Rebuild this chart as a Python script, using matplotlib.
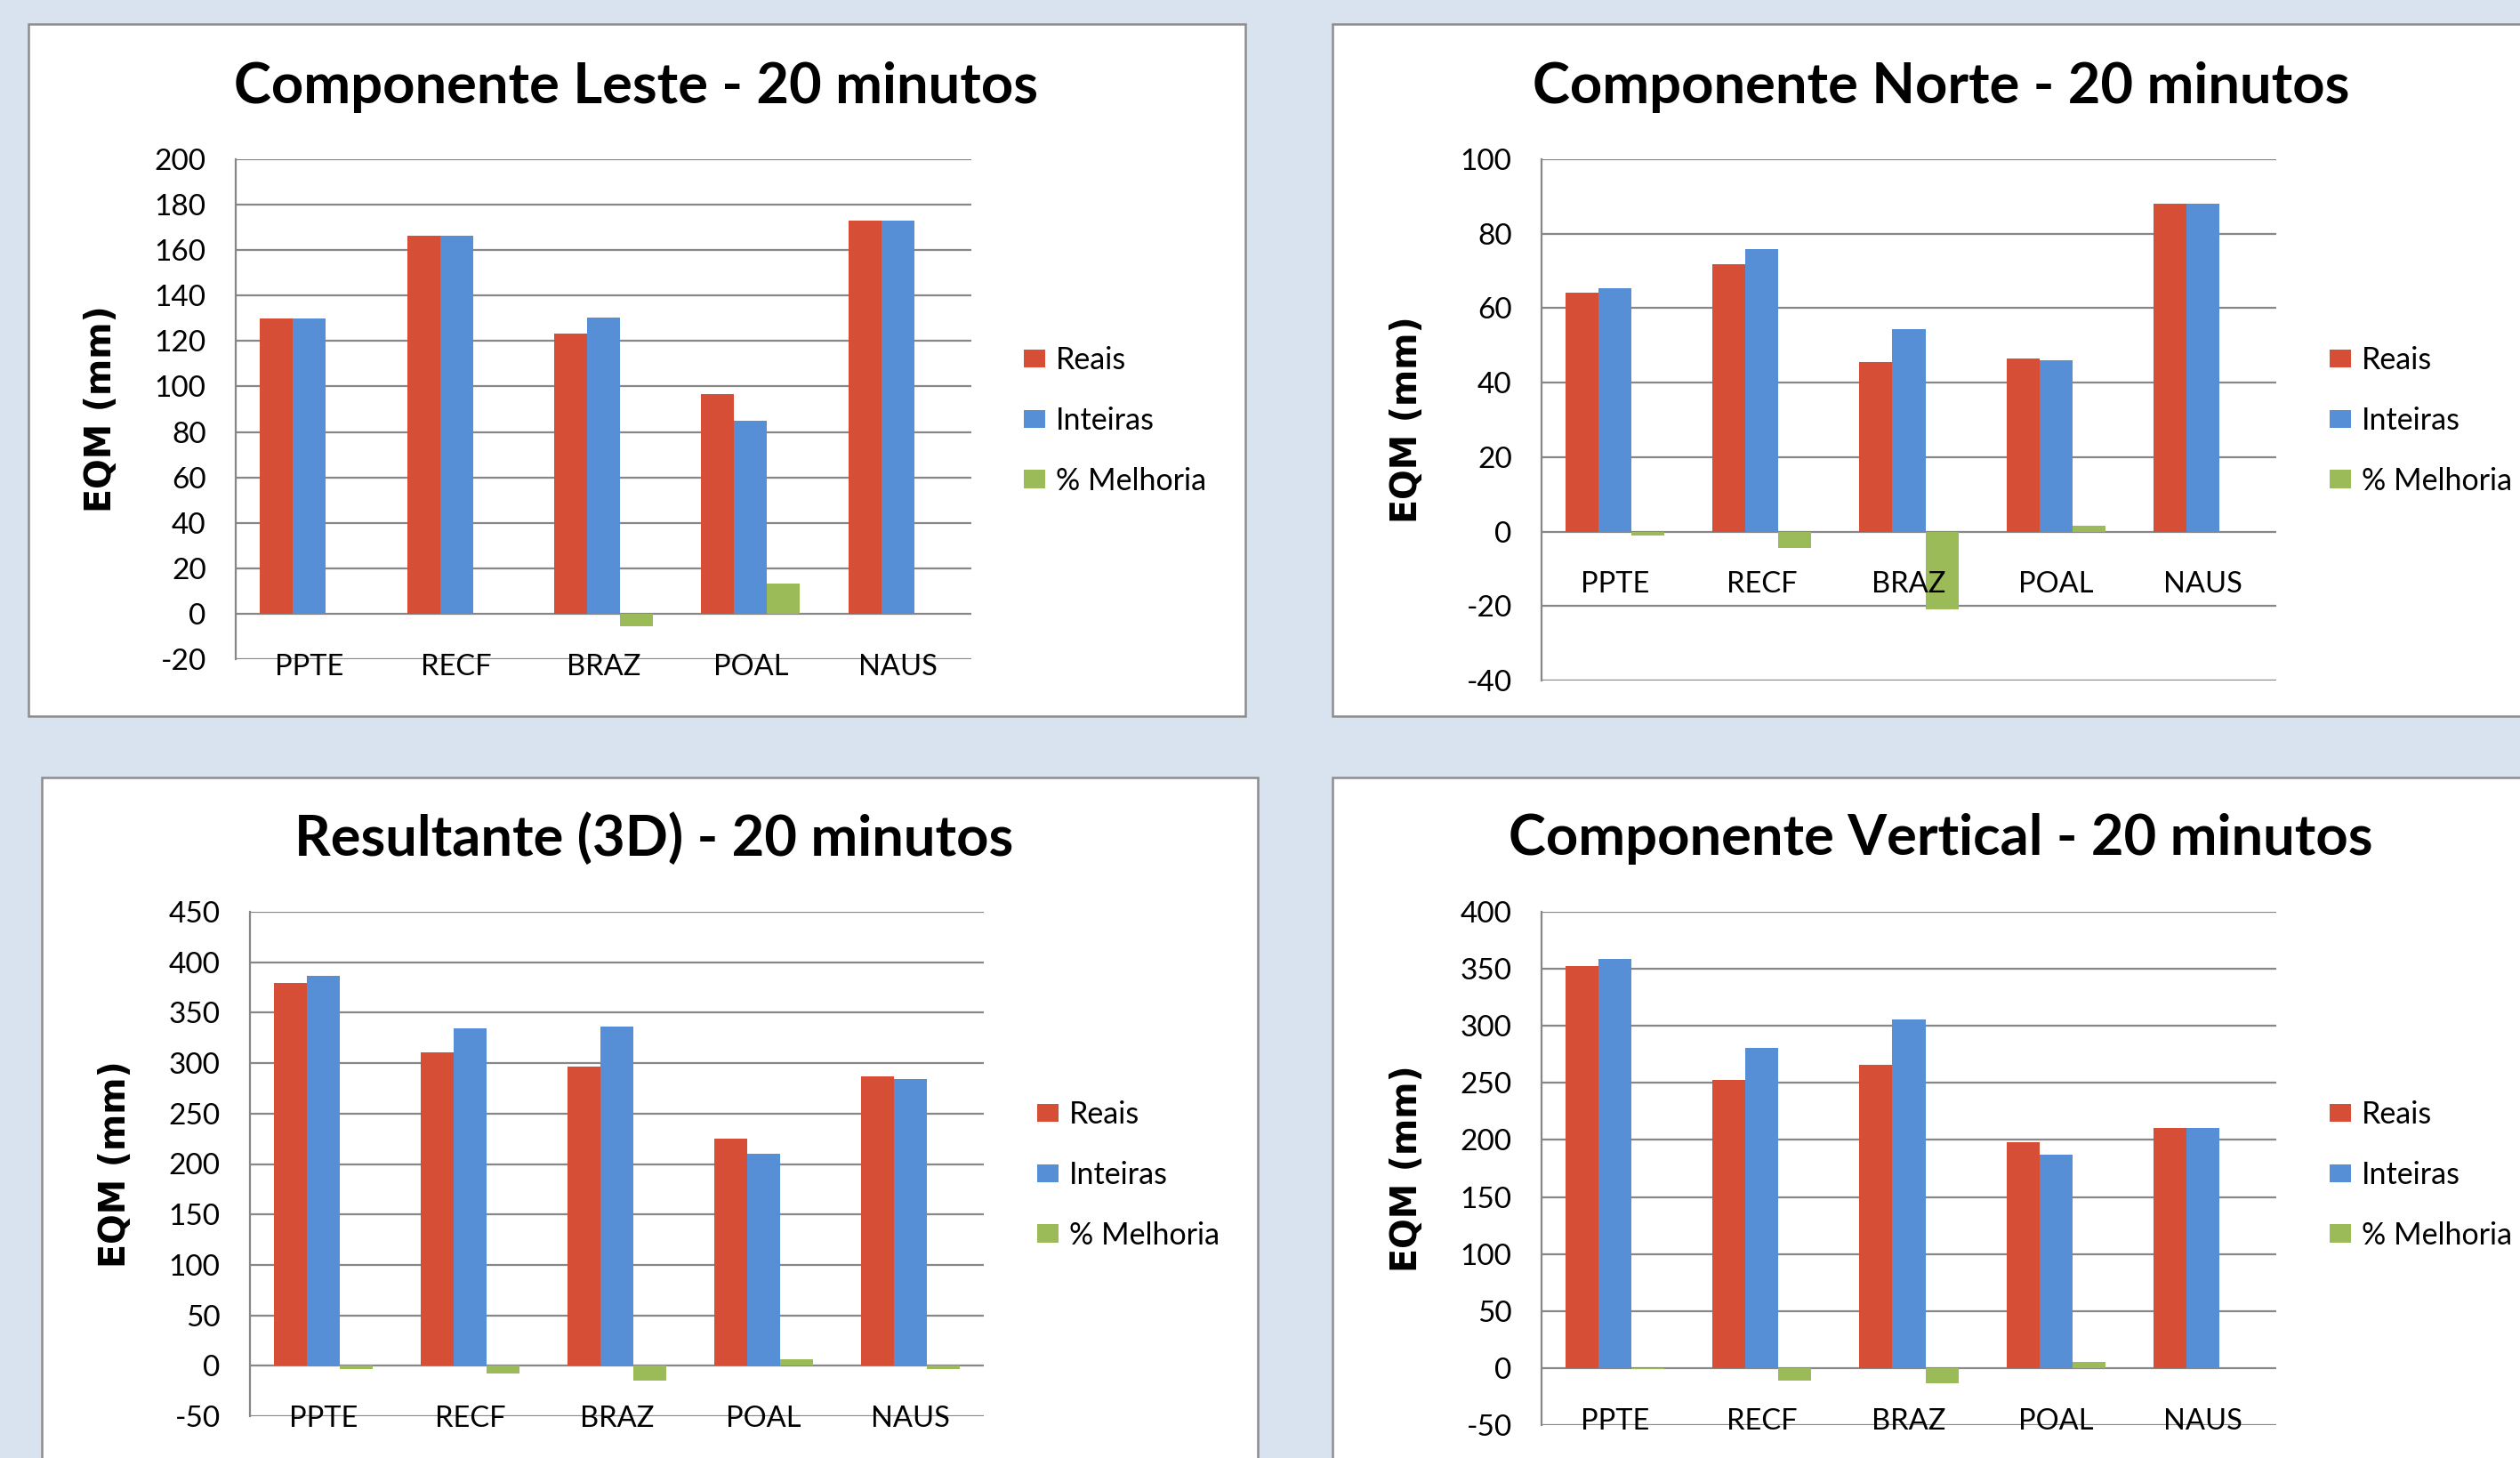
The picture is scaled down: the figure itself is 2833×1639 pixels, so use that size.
import matplotlib
matplotlib.use("Agg")
import matplotlib.pyplot as plt
from matplotlib.patches import Rectangle
import numpy as np

plt.rcParams["axes.unicode_minus"] = False

W, H, DPI = 2833, 1639, 100

stations = ["PPTE", "RECF", "BRAZ", "POAL", "NAUS"]
series_names = ["Reais", "Inteiras", "% Melhoria"]

leste_reais = [130.0, 166.5, 123.2, 96.7, 173.0]
leste_inteiras = [130.0, 166.5, 130.5, 85.0, 173.0]
leste_melhoria = [0.0, 0.0, -5.7, 13.3, 0.0]

norte_reais = [64.1, 71.9, 45.5, 46.6, 88.0]
norte_inteiras = [65.4, 75.8, 54.4, 46.1, 88.0]
norte_melhoria = [-1.0, -4.3, -21.0, 1.5, 0.0]

res3d_reais = [379.7, 310.6, 296.6, 224.9, 286.5]
res3d_inteiras = [386.7, 334.2, 336.4, 210.4, 283.9]
res3d_melhoria = [-3.0, -8.0, -15.0, 6.0, -3.0]

vert_reais = [352.6, 252.9, 265.8, 198.1, 210.5]
vert_inteiras = [358.8, 280.5, 305.4, 187.2, 210.5]
vert_melhoria = [-1.0, -11.3, -13.2, 5.0, 0.0]

titles = ["Componente Leste - 20 minutos", "Componente Norte - 20 minutos",
          "Resultante (3D) - 20 minutos", "Componente Vertical - 20 minutos"]
y_label = "EQM (mm)"

colors = ["#D64E36", "#568FD6", "#9BBB59"]
grid_color = "#878787"
bg_color = "#D9E3EF"
font_main = "Lato"

fig = plt.figure(figsize=(W / DPI, H / DPI), dpi=DPI, facecolor=bg_color)


def fx(x):
    return x / W


def fy(y):
    return 1 - y / H


def panel(x0, y0, x1, y1):
    fig.patches.append(Rectangle((fx(x0), fy(y1)), fx(x1) - fx(x0), fy(y0) - fy(y1),
                                 transform=fig.transFigure, facecolor="white",
                                 edgecolor="#8C8C8C", linewidth=1.8, zorder=-5))


def chart(rect, title, title_xy, legend_xy, data, ylim, step):
    x0, y0, x1, y1 = rect
    ax = fig.add_axes([fx(x0), fy(y1), fx(x1) - fx(x0), fy(y0) - fy(y1)])
    ax.set_facecolor("none")
    ax.set_zorder(2)
    idx = np.arange(len(stations))
    w = 0.224
    for k, (vals, name) in enumerate(zip(data, series_names)):
        ax.bar(idx + (k - 1) * w, vals, width=w, color=colors[k], label=name,
               linewidth=0, zorder=3)
    ax.set_xlim(-0.5, len(stations) - 0.5)
    ax.set_ylim(*ylim)
    ax.set_yticks(np.arange(ylim[0], ylim[1] + step / 2, step))
    ax.yaxis.grid(True, color=grid_color, linewidth=1.6, zorder=1)
    ax.set_axisbelow(True)
    for s in ["top", "right", "bottom"]:
        ax.spines[s].set_visible(False)
    ax.spines["left"].set_color(grid_color)
    ax.spines["left"].set_linewidth(1.6)
    ax.set_xticks([])
    ax.tick_params(axis="y", length=0, pad=24, labelsize=24)
    for lab in ax.get_yticklabels():
        lab.set_fontfamily(font_main)
    for i, st in enumerate(stations):
        ax.annotate(st, xy=(i, 0), xytext=(0, -43), textcoords="offset points",
                    ha="center", va="center", fontsize=23.5, family=font_main,
                    annotation_clip=False)
    ax.set_ylabel(y_label, family="DejaVu Sans", fontweight="bold", fontsize=28.5)
    ax.yaxis.set_label_coords(-131 / (x1 - x0), 0.5)
    fig.text(fx(title_xy[0]), fy(title_xy[1]), title, ha="center", va="center",
             family=font_main, fontweight="bold", fontsize=45.5)
    ax.legend(loc="center left", bbox_to_anchor=(fx(legend_xy[0]), fy(legend_xy[1])),
              bbox_transform=fig.transFigure, frameon=False,
              prop={"family": font_main, "size": 24.5},
              handlelength=0.7, handleheight=0.55, handletextpad=0.35,
              labelspacing=1.05, borderpad=0, borderaxespad=0)
    return ax


panel(32, 27, 1400, 805)
panel(1498, 27, 2860, 805)
panel(47, 874, 1414, 1660)
panel(1498, 874, 2860, 1660)

chart((265, 179, 1092, 741), titles[0], (715, 98), (1151, 473),
      [leste_reais, leste_inteiras, leste_melhoria], (-20, 200), 20)
chart((1733, 179, 2559, 765), titles[1], (2182, 98), (2619, 473),
      [norte_reais, norte_inteiras, norte_melhoria], (-40, 100), 20)
chart((281, 1025, 1106, 1592), titles[2], (735, 943), (1166, 1321),
      [res3d_reais, res3d_inteiras, res3d_melhoria], (-50, 450), 50)
chart((1733, 1025, 2559, 1602), titles[3], (2182, 943), (2619, 1321),
      [vert_reais, vert_inteiras, vert_melhoria], (-50, 400), 50)

fig.savefig("out.png", dpi=DPI, facecolor=bg_color)
